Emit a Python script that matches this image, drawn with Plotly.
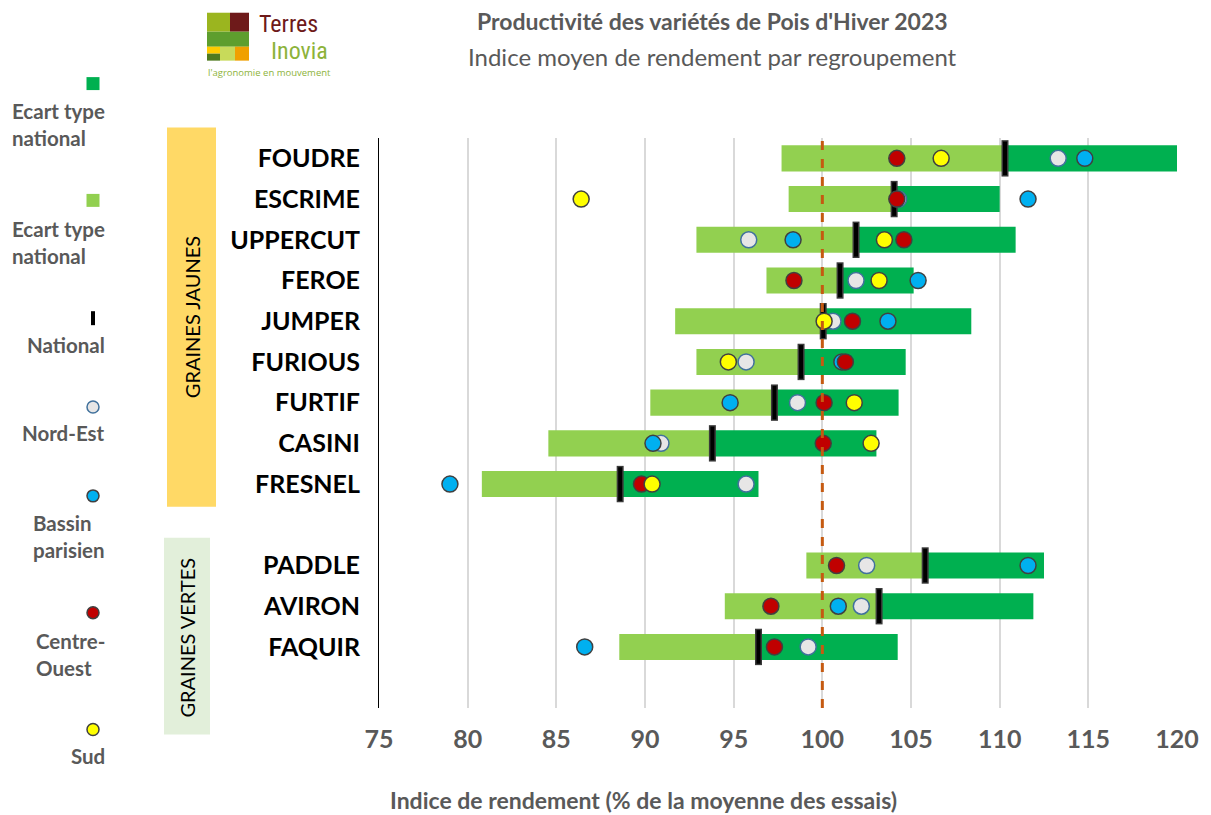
import plotly.graph_objects as go

# ---------------- data ----------------
varieties = ["FOUDRE", "ESCRIME", "UPPERCUT", "FEROE", "JUMPER", "FURIOUS",
             "FURTIF", "CASINI", "FRESNEL", "PADDLE", "AVIRON", "FAQUIR"]
rows = [0, 1, 2, 3, 4, 5, 6, 7, 8, 10, 11, 12]
national = [110.3, 104.05, 101.9, 101.0, 100.05, 98.8, 97.3, 93.8, 88.6, 105.8, 103.2, 96.4]
ecart_type = [12.6, 5.95, 9.0, 4.15, 8.35, 5.9, 7.0, 9.25, 7.8, 6.7, 8.7, 7.85]
nord_est = [113.3, 104.3, 95.85, 101.9, 100.6, 95.7, 98.6, 90.9, 95.7, 102.5, 102.2, 99.2]
bassin_parisien = [114.8, 111.6, 98.35, 105.4, 103.7, 101.1, 94.8, 90.45, 79.0, 111.6, 100.9, 86.6]
centre_ouest = [104.2, 104.2, 104.6, 98.4, 101.7, 101.3, 100.1, 100.05, 89.8, 100.8, 97.1, 97.3]
sud = [106.7, 86.4, 103.5, 103.2, 100.1, 94.7, 101.8, 102.75, 90.4, None, None, None]
x_ticks = [75, 80, 85, 90, 95, 100, 105, 110, 115, 120]
reference = 100

# ---------------- geometry helpers (screen pixels) ----------------
S = 8                      # default page margin of the html body
W, H = 1211 - S, 815 - S
L, R, T, B = 379, 1177, 137.5, 708.5


def px(x):
    return (x - L) / (R - L)


def py(y):
    return (B - y) / (B - T)


FONT = "Lato"
GREY = "#595959"

fig = go.Figure()

low = [n - e for n, e in zip(national, ecart_type)]
fig.add_trace(go.Bar(y=rows, x=ecart_type, base=low, orientation="h",
                     marker=dict(color="#92D050", line=dict(width=0)),
                     width=0.64, showlegend=False, hoverinfo="skip"))
fig.add_trace(go.Bar(y=rows, x=ecart_type, base=national, orientation="h",
                     marker=dict(color="#00B050", line=dict(width=0)),
                     width=0.64, showlegend=False, hoverinfo="skip"))
# national markers
fig.add_trace(go.Scatter(y=rows, x=national, mode="markers", showlegend=False,
                         marker=dict(symbol="line-ns", size=26,
                                     line=dict(width=7, color="#3A3A3A"))))
fig.add_trace(go.Scatter(y=rows, x=national, mode="markers", showlegend=False,
                         marker=dict(symbol="line-ns", size=24,
                                     line=dict(width=4, color="#000000"))))

pts = [
    (nord_est, "#E7E6E6", "#41719C"),
    (bassin_parisien, "#00B0F0", "#404040"),
    (centre_ouest, "#C00000", "#404040"),
    (sud, "#FFFF00", "#404040"),
]
for vals, col, lc in pts:
    fig.add_trace(go.Scatter(y=rows, x=vals, mode="markers", showlegend=False,
                             marker=dict(symbol="circle", size=16, color=col,
                                         line=dict(width=1.5, color=lc))))

shapes = []
annotations = []


def ann(x, y, text, size, color, family=FONT, xanchor="center", yanchor="middle",
        align="center", textangle=0):
    annotations.append(dict(xref="paper", yref="paper", x=px(x), y=py(y), text=text,
                            xanchor=xanchor, yanchor=yanchor, align=align,
                            textangle=textangle, showarrow=False,
                            font=dict(family=family, size=size, color=color)))


# reference dashed line
shapes.append(dict(type="line", xref="x", yref="paper", x0=reference, x1=reference,
                   y0=0, y1=1, layer="above",
                   line=dict(color="#C55A11", width=3, dash="dash")))

# group boxes
shapes.append(dict(type="rect", xref="paper", yref="paper", layer="below",
                   x0=px(167), x1=px(216), y0=py(507), y1=py(127),
                   fillcolor="#FFD966", line=dict(width=0)))
shapes.append(dict(type="rect", xref="paper", yref="paper", layer="below",
                   x0=px(164), x1=px(210), y0=py(735), y1=py(538),
                   fillcolor="#E2EFDA", line=dict(width=0)))
ann(192, 317, "GRAINES JAUNES", 20, "#000000", textangle=-90)
ann(187, 638, "GRAINES VERTES", 20, "#000000", textangle=-90)

# legend (left side)
lx = 93


def sq(cy, color):
    shapes.append(dict(type="rect", xref="paper", yref="paper",
                       x0=px(lx - 6.5), x1=px(lx + 6.5), y0=py(cy + 6.5), y1=py(cy - 6.5),
                       fillcolor=color, line=dict(width=0)))


def circ(cy, color, lc):
    shapes.append(dict(type="circle", xref="paper", yref="paper",
                       x0=px(lx - 6), x1=px(lx + 6), y0=py(cy + 6), y1=py(cy - 6),
                       fillcolor=color, line=dict(width=1.5, color=lc)))


def ltext(cy, text):
    ann(107, cy, text, 20.5, GREY, xanchor="right", align="left")


sq(83, "#00B050")
ltext(124, "<b>Ecart type<br>national</b>")
sq(200, "#92D050")
ltext(242, "<b>Ecart type<br>national</b>")
shapes.append(dict(type="line", xref="paper", yref="paper",
                   x0=px(lx), x1=px(lx), y0=py(311), y1=py(325),
                   line=dict(color="#000000", width=4)))
ltext(345, "<b>National</b>")
circ(407, "#E7E6E6", "#41719C")
ltext(433, "<b>Nord-Est</b>")
circ(496, "#00B0F0", "#404040")
ltext(537, "<b>Bassin<br>parisien</b>")
circ(613, "#C00000", "#404040")
ltext(655, "<b>Centre-<br>Ouest</b>")
circ(730, "#FFFF00", "#404040")
ltext(757, "<b>Sud</b>")

# titles
ann(712, 20, "<b>Productivité des variétés de Pois d'Hiver 2023</b>", 23, GREY)
ann(712, 56, "Indice moyen de rendement par regroupement", 24, GREY)
ann(643, 801, "<b>Indice de rendement (% de la moyenne des essais)</b>", 23, GREY)

# logo
logo = [
    (207, 230, 12, 31, "#9BB51F"),
    (230, 249, 12, 31, "#6E1A1A"),
    (207, 249, 31, 46, "#5E9E2E"),
    (207, 220, 46, 53, "#FFCC00"),
    (207, 220, 53, 60, "#4F7A1F"),
    (220, 235, 46, 60, "#C8DA5A"),
    (235, 249, 46, 60, "#F0A000"),
]
for x0, x1, y0, y1, c in logo:
    shapes.append(dict(type="rect", xref="paper", yref="paper",
                       x0=px(x0), x1=px(x1), y0=py(y1), y1=py(y0),
                       fillcolor=c, line=dict(width=0)))
LOGO_FONT = "Liberation Sans Narrow, Roboto Condensed, Roboto"
ann(257, 23, "Terres", 24, "#6E1A1A", family=LOGO_FONT, xanchor="left")
ann(269, 50, "Inovia", 24, "#8DB33A", family=LOGO_FONT, xanchor="left")
ann(206, 72, "l'agronomie en mouvement", 9.5, "#8DB33A", family="Open Sans", xanchor="left")

fig.update_layout(
    width=W, height=H,
    margin=dict(l=L - S, r=(W + S) - R, t=T - S, b=(H + S) - B, pad=0, autoexpand=False),
    paper_bgcolor="white", plot_bgcolor="white",
    barmode="overlay", showlegend=False,
    shapes=shapes, annotations=annotations,
    xaxis=dict(range=[75, 120], tickvals=x_ticks,
               ticktext=["<b>%d</b>" % v for v in x_ticks], automargin=False,
               showgrid=True, gridcolor="#D9D9D9", gridwidth=2,
               zeroline=False, showline=False, ticks="", ticklabelstandoff=14,
               tickfont=dict(family=FONT, size=25, color=GREY)),
    yaxis=dict(range=[13.5, -0.5], tickvals=rows, ticktext=["<b>%s</b>" % v for v in varieties],
               automargin=False,
               showgrid=False, zeroline=False, showline=True, linecolor="#000000",
               linewidth=1, ticks="", ticklabelstandoff=13,
               tickfont=dict(family=FONT, size=25, color="#000000")),
)

fig.write_html("out.html")
